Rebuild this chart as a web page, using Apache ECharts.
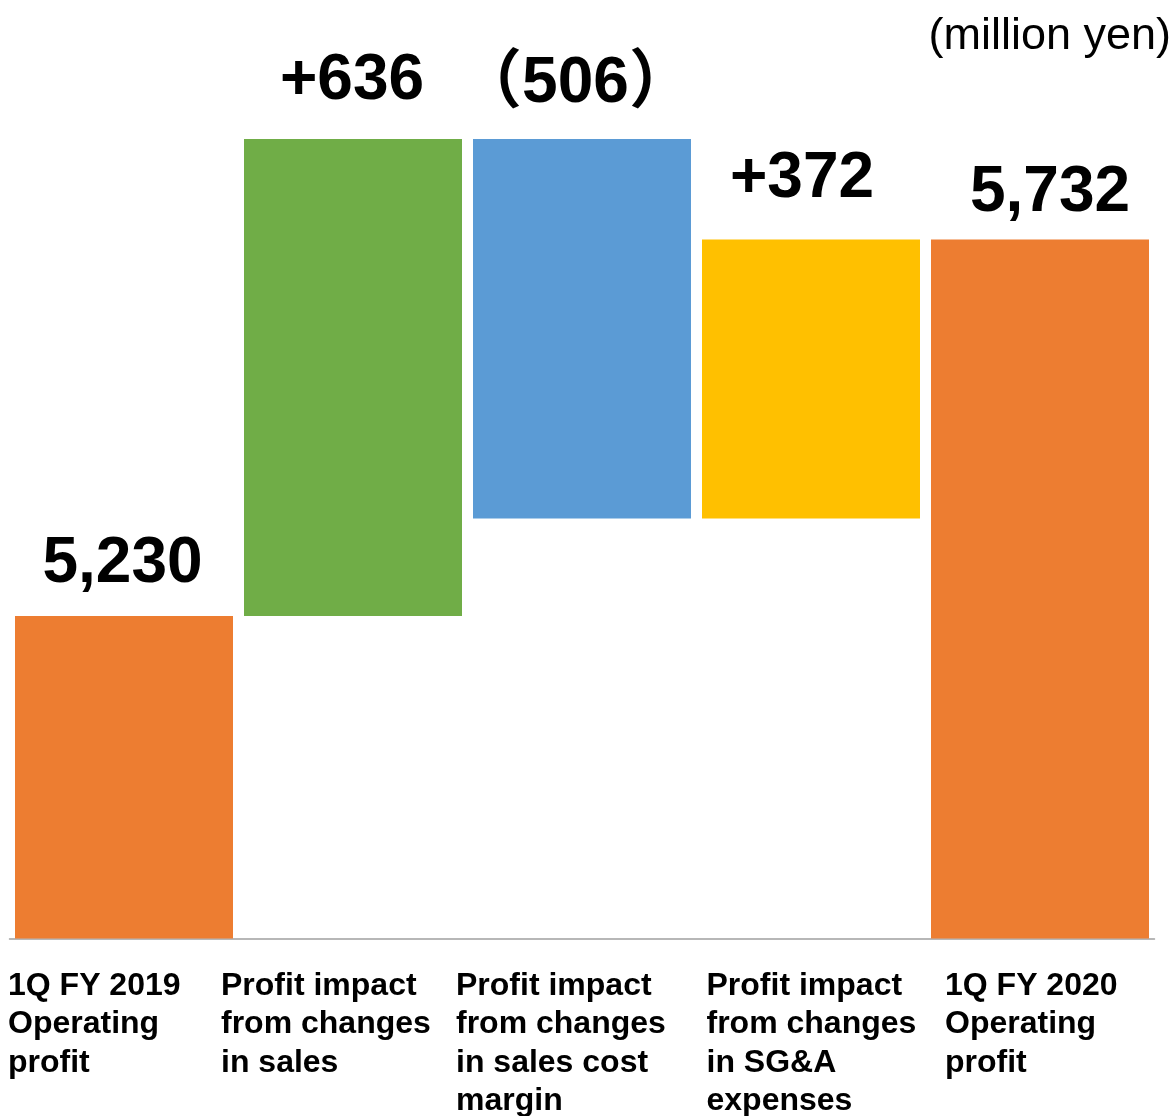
<!DOCTYPE html>
<html>
<head>
<meta charset="utf-8">
<script src="https://cdn.jsdelivr.net/npm/echarts@6/dist/echarts.min.js"></script>
<style>
html,body{margin:0;padding:0;background:#fff;}
#chart{width:1171px;height:1116px;}
</style>
</head>
<body>
<div id="chart"></div>
<script>
// ---- data ----
const categories = [
  '1Q FY 2019\nOperating\nprofit',
  'Profit impact\nfrom changes\nin sales',
  'Profit impact\nfrom changes\nin sales cost\nmargin',
  'Profit impact\nfrom changes\nin SG&A\nexpenses',
  '1Q FY 2020\nOperating\nprofit'
];
const startValue = 5230;
const changes = [636, -506, 372];
const endValue = 5732;
const valueLabels = ['5,230', '+636', '（506）', '+372', '5,732'];
const unitText = '(million yen)';

// ---- styling / layout (not data) ----
const barColors = ['#ED7D31', '#70AD47', '#5B9BD5', '#FFC000', '#ED7D31'];
const labelShift = [34, 18, 24, 45.5, 55];
const valueLabelOffset = [[-1.5, -20], [-1, -26], [-6.5, -23], [-9, -28], [10, -14.5]];

// ---- build waterfall ----
const base = [0];
const visible = [startValue];
let running = startValue;
changes.forEach(c => {
  if (c >= 0) { base.push(running); visible.push(c); running += c; }
  else { running += c; base.push(running); visible.push(-c); }
});
base.push(0);
visible.push(endValue);

const FONT = "'Liberation Sans', Arial, 'Noto Sans CJK JP', sans-serif";
const rich = {};
categories.forEach((c, i) => {
  rich['c' + i] = {
    align: 'left', padding: [0, 0, 0, labelShift[i]],
    fontSize: 32, fontWeight: 'bold', fontFamily: FONT,
    lineHeight: 38.5, color: '#000'
  };
});

const chart = echarts.init(document.getElementById('chart'), null, {renderer: 'canvas'});
chart.setOption({
  animation: false,
  backgroundColor: '#fff',
  title: {
    text: unitText, right: 0, top: 14, padding: 0,
    textStyle: {fontSize: 45, fontWeight: 'normal', fontFamily: FONT, color: '#000'}
  },
  grid: {left: 9.5, width: 1145, top: 38.5, height: 900, containLabel: false, outerBoundsMode: 'none'},
  xAxis: {
    type: 'category',
    data: categories,
    axisLine: {lineStyle: {color: '#A0A0A0', width: 1.5}},
    axisTick: {show: false},
    axisLabel: {
      interval: 0, margin: 28, width: 300, align: 'center', overflow: 'none',
      formatter: (v, i) => v.split('\n').map(l => '{c' + i + '|' + l + '}').join('\n'),
      rich: rich
    }
  },
  yAxis: {
    type: 'value', min: 4800, max: 6000,
    show: false, splitLine: {show: false}
  },
  series: [
    {
      type: 'bar', stack: 'w', barWidth: 218,
      itemStyle: {color: 'transparent'},
      data: base, silent: true
    },
    {
      type: 'bar', stack: 'w', barWidth: 218,
      data: visible.map((v, i) => ({
        value: v,
        itemStyle: {color: barColors[i]},
        label: {offset: valueLabelOffset[i]}
      })),
      label: {
        show: true, position: 'top', distance: 0,
        fontSize: 64, fontWeight: 'bold', fontFamily: FONT, color: '#000',
        formatter: p => valueLabels[p.dataIndex]
      }
    }
  ]
});
</script>
</body>
</html>
